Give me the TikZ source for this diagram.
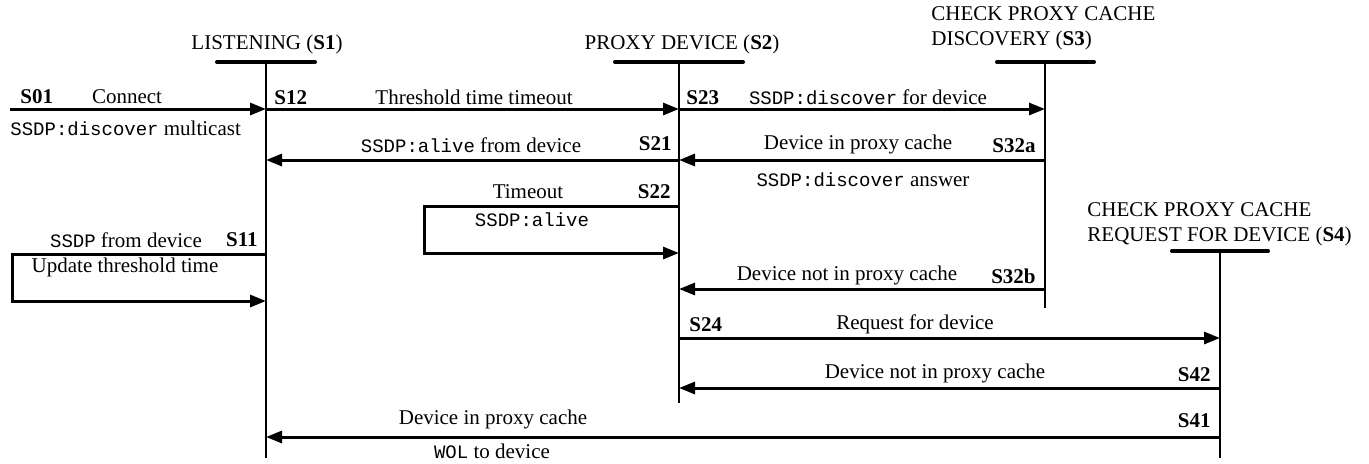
\documentclass[tikz,border=0pt]{standalone}
\usepackage{fontspec}
\setmainfont{Liberation Serif}
\setmonofont{Liberation Mono}
\usepackage{tikz}
\usetikzlibrary{arrows.meta}
\newcommand{\ssdp}[1]{{\fontsize{9.5pt}{11pt}\selectfont\ttfamily #1}}
\tikzset{
    lifeline/.style={draw, line width=1pt},
    statebar/.style={draw, line width=2pt, line cap=round},
    msg/.style={draw, line width=1.5pt, -{Triangle[length=8pt,width=6pt]}},
    font={\fontsize{10.5pt}{12.5pt}\selectfont},
}

\begin{document}
\begin{tikzpicture}
[
    x=0.5pt, y=-0.5pt,
    every node/.style={inner sep=0pt},
    idlabel/.style={font=\fontsize{10.5pt}{12.5pt}\selectfont\bfseries},
]
\useasboundingbox (0,0) rectangle (1369,463);
% states and lifelines
\node(title1) at (267,44){LISTENING (\textbf{S1})};
\node(title2) at (682,44){PROXY DEVICE (\textbf{S2})};
\node(title3) at (931,28)[anchor=west, align=left]{CHECK PROXY CACHE\\DISCOVERY (\textbf{S3})};
\node(title4) at (1087,224)[anchor=west, align=left]{CHECK PROXY CACHE\\REQUEST FOR DEVICE (\textbf{S4})};
\coordinate(top1) at (266,62);
\coordinate(end1) at (266,458);
\coordinate(top2) at (679,62);
\coordinate(end2) at (679,403);
\coordinate(top3) at (1045,62);
\coordinate(end3) at (1045,308);
\coordinate(top4) at (1220,251);
\coordinate(end4) at (1220,458);
\draw[lifeline] (top1) -- (end1);
\draw[lifeline] (top2) -- (end2);
\draw[lifeline] (top3) -- (end3);
\draw[lifeline] (top4) -- (end4);
\draw[statebar] ([xshift=-24.5pt]top1) -- ([xshift=24.5pt]top1);
\draw[statebar] ([xshift=-32pt]top2) -- ([xshift=32pt]top2);
\draw[statebar] ([xshift=-24pt]top3) -- ([xshift=24.5pt]top3);
\draw[statebar] ([xshift=-24pt]top4) -- ([xshift=24pt]top4);
% message rows
\coordinate(start) at (10,109);
\coordinate(row1) at (0,109);
\coordinate(row2) at (0,160);
\coordinate(row32b) at (0,289);
\coordinate(row24) at (0,338);
\coordinate(row42) at (0,388);
\coordinate(row41) at (0,437);
\coordinate(loop22a) at (424,206);
\coordinate(loop22b) at (424,253);
\coordinate(loop11a) at (12,254);
\coordinate(loop11b) at (12,301);
\draw[msg] (start) -- (top1 |- start);
\draw[msg] (top1 |- row1) -- (top2 |- row1);
\draw[msg] (top2 |- row1) -- (top3 |- row1);
\draw[msg] (top2 |- row2) -- (top1 |- row2);
\draw[msg] (top3 |- row2) -- (top2 |- row2);
\draw[msg] (top2 |- loop22a) -- (loop22a) -- (loop22b) -- (top2 |- loop22b);
\draw[msg] (top1 |- loop11a) -- (loop11a) -- (loop11b) -- (top1 |- loop11b);
\draw[msg] (top3 |- row32b) -- (top2 |- row32b);
\draw[msg] (top2 |- row24) -- (top4 |- row24);
\draw[msg] (top4 |- row42) -- (top2 |- row42);
\draw[msg] (top4 |- row41) -- (top1 |- row41);
% labels
\node(s01) at (20,97)[idlabel, anchor=west]{S01};
\node(connect) at (127,97){Connect};
\node(multicast) at (10,128)[anchor=west]{\ssdp{SSDP:discover} multicast};
\node(s12) at (274,98)[idlabel, anchor=west]{S12};
\node(threshold) at (474,97){Threshold time timeout};
\node(s23) at (686,98)[idlabel, anchor=west]{S23};
\node(discover) at (868,97){\ssdp{SSDP:discover} for device};
\node(alive) at (471,145){\ssdp{SSDP:alive} from device};
\node(s21) at (672,144)[idlabel, anchor=east]{S21};
\node(incache) at (858,144){Device in proxy cache};
\node(s32a) at (1036,146)[idlabel, anchor=east]{S32a};
\node(answer) at (863,180){\ssdp{SSDP:discover} answer};
\node(timeout) at (528,192){Timeout};
\node(s22) at (671,192)[idlabel, anchor=east]{S22};
\node(alive22) at (532,220){\ssdp{SSDP:alive}};
\node(fromdev) at (126,240){\ssdp{SSDP} from device};
\node(s11) at (258,240)[idlabel, anchor=east]{S11};
\node(update) at (125,267){Update threshold time};
\node(notcache) at (847,275){Device not in proxy cache};
\node(s32b) at (1036,276)[idlabel, anchor=east]{S32b};
\node(s24) at (689,325)[idlabel, anchor=west]{S24};
\node(request) at (915,324){Request for device};
\node(notcache4) at (935,373){Device not in proxy cache};
\node(s42) at (1211,375)[idlabel, anchor=east]{S42};
\node(incache4) at (493,419){Device in proxy cache};
\node(s41) at (1211,421)[idlabel, anchor=east]{S41};
\node(wol) at (492,451){\ssdp{WOL} to device};
\end{tikzpicture}
\end{document}
